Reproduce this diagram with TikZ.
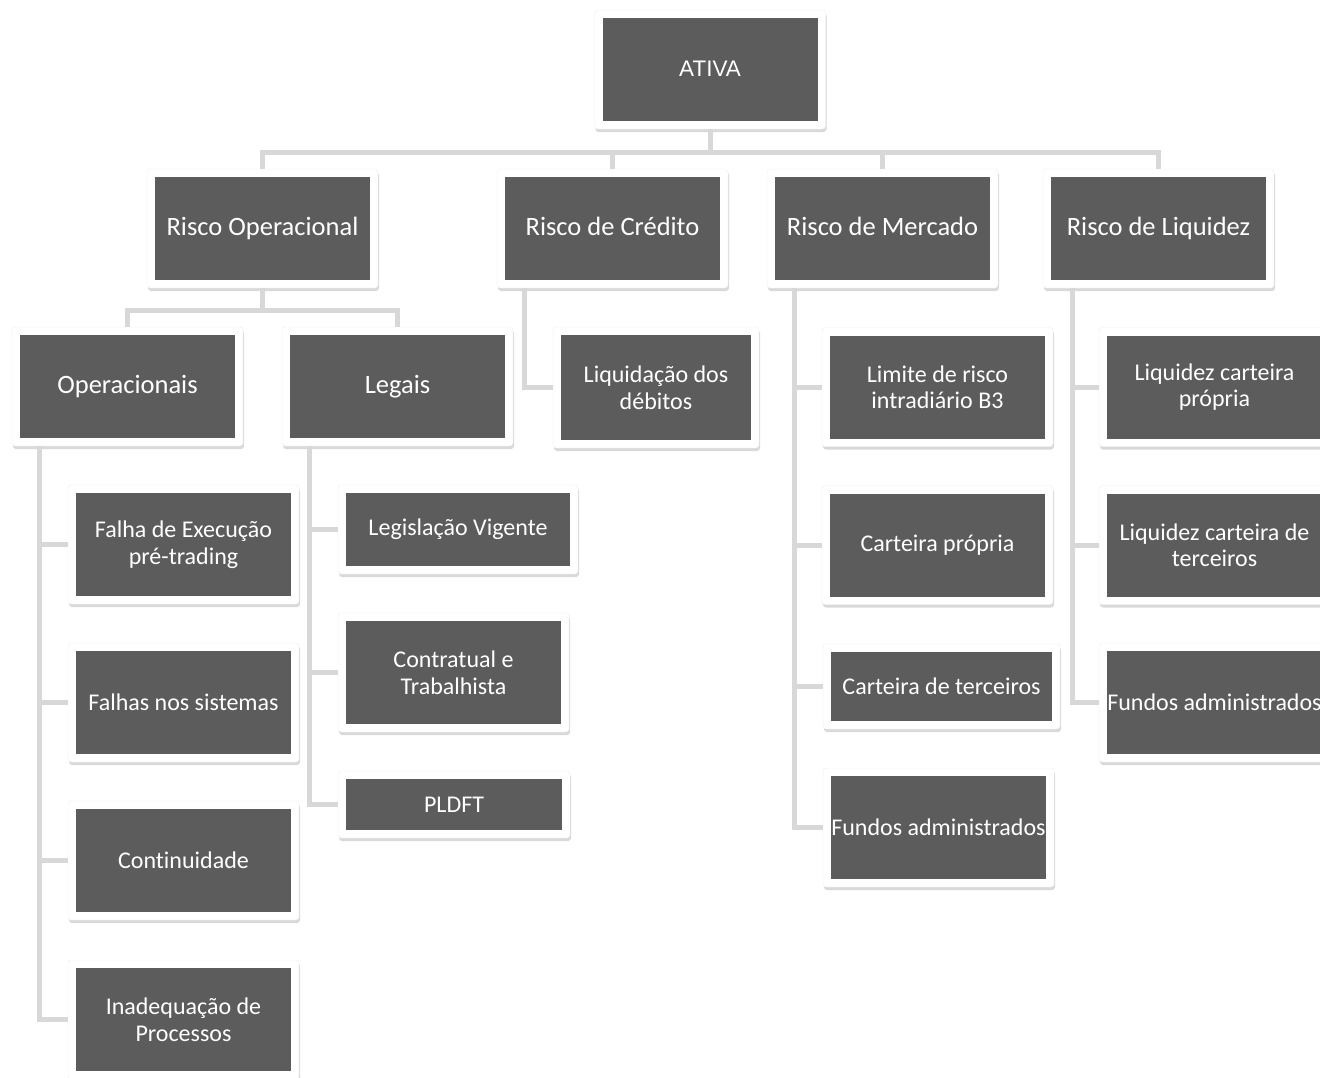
\documentclass[tikz,border=0pt]{standalone}
\usepackage{fontspec}
\setmainfont{Carlito}[Ligatures=NoCommon]
\newfontfamily\ativafont{Liberation Sans}
\usetikzlibrary{shadows}
\definecolor{boxgray}{RGB}{92,92,92}
\definecolor{linkgray}{RGB}{216,216,216}
\begin{document}
\begin{tikzpicture}[x=1pt, y=-1pt,
        frame/.style={rounded corners=3pt, fill=white, draw=black!7, text=white,
            align=center, inner sep=0pt,
            drop shadow={shadow xshift=1pt, shadow yshift=-3pt, opacity=0.3},
            path picture={\fill[boxgray, sharp corners]
                ([shift={(8pt,8pt)}]path picture bounding box.south west) rectangle
                ([shift={(-8pt,-8pt)}]path picture bounding box.north east);}},
        big/.style={frame, minimum width=231pt, minimum height=119pt,
            text height=19pt, text depth=6pt,
            font=\fontsize{26.5}{29}\selectfont},
        leaf/.style={frame, minimum width=231pt, minimum height=119pt,
            font=\fontsize{24}{26.5}\selectfont},
        link/.style={linkgray, line width=5pt}
    ]
    \useasboundingbox (0,0) rectangle (1320,1077);

    % top and first level
    \node[big, font=\ativafont\fontsize{22.5}{26}\selectfont] (ativa) at (710,69.5) {ATIVA};
    \node[big] (oper) at (262.5,228.5) {Risco Operacional};
    \node[big] (cred) at (612.5,228.5) {Risco de Crédito};
    \node[big] (merc) at (882.5,228.5) {Risco de Mercado};
    \node[big] (liq) at (1158.5,228.5) {Risco de Liquidez};
    \coordinate (bus1) at (0,152);
    \foreach \n in {oper,cred,merc,liq}
        \draw[link] (ativa.south) -- (ativa.south |- bus1) -| (\n.north);

    % operational risk
    \node[big] (operac) at (127.5,386.5) {Operacionais};
    \node[big] (legais) at (397.5,386.5) {Legais};
    \coordinate (bus2) at (0,310);
    \foreach \n in {operac,legais}
        \draw[link] (oper.south) -- (oper.south |- bus2) -| (\n.north);

    \node[leaf] (falha) at (183.5,544.5) {Falha de Execução\\pré-trading};
    \node[leaf] (sist) at (183.5,702.5) {Falhas nos sistemas};
    \node[leaf] (cont) at (183.5,860.5) {Continuidade};
    \node[leaf] (inad) at (183.5,1019.5) {Inadequação de\\Processos};
    \foreach \n in {falha,sist,cont,inad}
        \draw[link] ([xshift=28pt]operac.south west) |- (\n.west);

    \node[leaf, minimum width=240pt, minimum height=89pt] (legis) at (458,529.5) {Legislação Vigente};
    \node[leaf] (contr) at (453.5,672.5) {Contratual e\\Trabalhista};
    \node[leaf, minimum width=232pt, minimum height=67pt] (pldft) at (454,804.5) {PLDFT};
    \foreach \n in {legis,contr,pldft}
        \draw[link] ([xshift=28pt]legais.south west) |- (\n.west);

    % credit risk
    \node[leaf, minimum width=206pt, minimum height=121pt] (liquid) at (656,387.5) {Liquidação dos\\débitos};
    \draw[link] ([xshift=28pt]cred.south west) |- (liquid.west);

    % market risk
    \node[leaf] (limite) at (937.5,387) {Limite de risco\\intradiário B3};
    \node[leaf] (cpropria) at (937.5,545) {Carteira própria};
    \node[leaf, minimum width=237pt, minimum height=85pt] (cterc) at (941.5,686.5) {Carteira de terceiros};
    \node[leaf] (fundm) at (938.5,827.5) {Fundos administrados};
    \foreach \n in {limite,cpropria,cterc,fundm}
        \draw[link] ([xshift=28pt]merc.south west) |- (\n.west);

    % liquidity risk
    \node[leaf] (lqprop) at (1214.5,387) {Liquidez carteira\\própria};
    \node[leaf] (lqterc) at (1214.5,545) {Liquidez carteira de\\terceiros};
    \node[leaf] (fundl) at (1214.5,702.5) {Fundos administrados};
    \foreach \n in {lqprop,lqterc,fundl}
        \draw[link] ([xshift=30pt]liq.south west) |- (\n.west);
\end{tikzpicture}
\end{document}
